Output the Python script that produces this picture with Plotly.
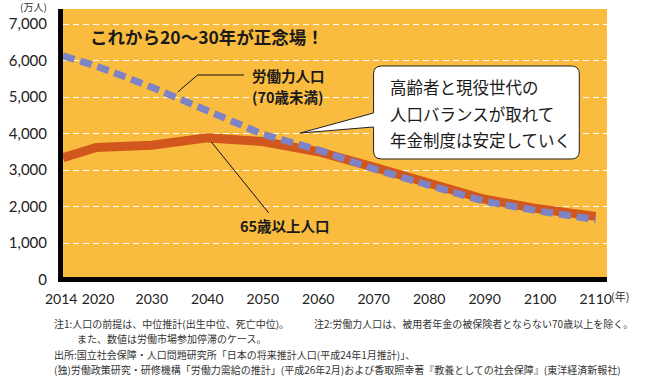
import plotly.graph_objects as go

years = [2014, 2020, 2030, 2040, 2050, 2060, 2070, 2080, 2090, 2100, 2110]
elderly = [3340, 3620, 3680, 3880, 3780, 3500, 3080, 2650, 2200, 1930, 1730]
labor = [6130, 5850, 5270, 4620, 3980, 3550, 3030, 2580, 2140, 1870, 1640]

y_ticks = [0, 1000, 2000, 3000, 4000, 5000, 6000, 7000]
y_tick_labels = ["0", "1,000", "2,000", "3,000", "4,000", "5,000", "6,000", "7,000"]
x_ticks = [2014, 2020, 2030, 2040, 2050, 2060, 2070, 2080, 2090, 2100, 2110]
x_tick_labels = ["2014\u00a0", "\u00a02020", "2030", "2040", "2050", "2060",
                 "2070", "2080", "2090", "2100", "2110"]

W, H = 668, 379
L, R, T, B = 57, 607, 9, 282

ORANGE = "#F9BC3F"
RED = "#D2571D"
BLUE = "#7D83C5"
JP = "Noto Sans CJK JP"
NUM = "Lato, Noto Sans, sans-serif"


def px(x):
    return (x - L) / (R - L)


def py(y):
    return (B - y) / (B - T)


fig = go.Figure()
fig.add_trace(go.Scatter(x=years, y=elderly, mode="lines",
                         line=dict(color=RED, width=9), hoverinfo="skip"))
fig.add_trace(go.Scatter(x=years, y=labor, mode="lines",
                         line=dict(color=BLUE, width=7, dash="12px,6px"), hoverinfo="skip"))

shapes = []
# black axes
shapes.append(dict(type="rect", xref="paper", yref="y", x0=px(52), x1=1, y0=-68, y1=68,
                   fillcolor="black", line=dict(width=0), layer="above"))
shapes.append(dict(type="rect", xref="paper", yref="paper", x0=px(52), x1=0, y0=0, y1=1,
                   fillcolor="black", line=dict(width=0), layer="above"))


def P(x, y):
    return f"{px(x):.5f},{py(y):.5f}"


# callout box
x0, x1, y0, y1, r = 371, 579, 66, 159, 8
path = (f"M {P(x0 + r, y0)} L {P(x1 - r, y0)} Q {P(x1, y0)} {P(x1, y0 + r)} "
        f"L {P(x1, y1 - r)} Q {P(x1, y1)} {P(x1 - r, y1)} L {P(x0 + r, y1)} "
        f"Q {P(x0, y1)} {P(x0, y1 - r)} L {P(x0, 127)} L {P(297, 133)} L {P(x0, 113)} "
        f"L {P(x0, y0 + r)} Q {P(x0, y0)} {P(x0 + r, y0)} Z")
shapes.append(dict(type="path", xref="paper", yref="paper", path=path,
                   fillcolor="white", line=dict(color="#222", width=1), layer="above"))

# leader lines
lp = f"M {P(173, 92)} L {P(193, 75)} L {P(240, 75)}"
shapes.append(dict(type="path", xref="paper", yref="paper", path=lp,
                   line=dict(color="#111", width=1), layer="above"))
shapes.append(dict(type="line", xref="paper", yref="paper", x0=px(207), y0=py(142),
                   x1=px(265), y1=py(213), line=dict(color="#111", width=1), layer="above"))

ann = []


def A(text, x, y, size, xanchor="left", color="#1a1a1a", font=JP):
    ann.append(dict(text=text, x=px(x), y=py(y), xref="paper", yref="paper",
                    xanchor=xanchor, yanchor="middle", showarrow=False,
                    font=dict(family=font, size=size, color=color)))


A("<b>これから20〜30年が正念場！</b>", 82, 37, 17.5)
A("<b>労働力人口</b>", 246, 75, 14.5)
A("<b>(70歳未満)</b>", 246, 97, 14.5)
A("<b>65歳以上人口</b>", 234, 225, 14.5)
A("高齢者と現役世代の", 386, 87, 16.5)
A("人口バランスが取れて", 386, 114, 16.5)
A("年金制度は安定していく", 386, 140, 16.5)
A("(万人)", 12, 6, 10, color="#333")
A("(年)", 609, 296, 11, color="#333")

fn = 10
A("注1:人口の前提は、中位推計(出生中位、死亡中位)。", 46, 323, fn, color="#333")
A("注2:労働力人口は、被用者年金の被保険者とならない70歳以上を除く。", 309, 323, fn, color="#333")
A("また、数値は労働市場参加停滞のケース。", 69, 338, fn, color="#333")
A("出所:国立社会保障・人口問題研究所「日本の将来推計人口(平成24年1月推計)」、", 46, 354, fn, color="#333")
A("(独)労働政策研究・研修機構「労働力需給の推計」(平成26年2月)および香取照幸著『教養としての社会保障』(東洋経済新報社)",
  46, 369, fn, color="#333")

fig.update_layout(
    width=W, height=H,
    margin=dict(l=L, r=W - R, t=T, b=H - B, pad=0),
    paper_bgcolor="white",
    plot_bgcolor=ORANGE,
    showlegend=False,
    shapes=shapes,
    annotations=ann,
    xaxis=dict(range=[2014, 2112.04], tickvals=x_ticks, ticktext=x_tick_labels,
               showgrid=False, zeroline=False, showline=False,
               ticks="outside", ticklen=4, tickcolor="rgba(0,0,0,0)", tickangle=0,
               tickfont=dict(family=NUM, size=14, color="#222")),
    yaxis=dict(range=[-68, 7411], tickvals=y_ticks, ticktext=y_tick_labels,
               showgrid=True, gridcolor="white", gridwidth=1, griddash="6px,4px",
               zeroline=False, showline=False,
               ticks="outside", ticklen=12, tickcolor="rgba(0,0,0,0)",
               tickfont=dict(family=NUM, size=15, color="#222")),
)

fig.write_html("out.html", config={"displayModeBar": False},
               post_script="document.body.style.margin='0';")
